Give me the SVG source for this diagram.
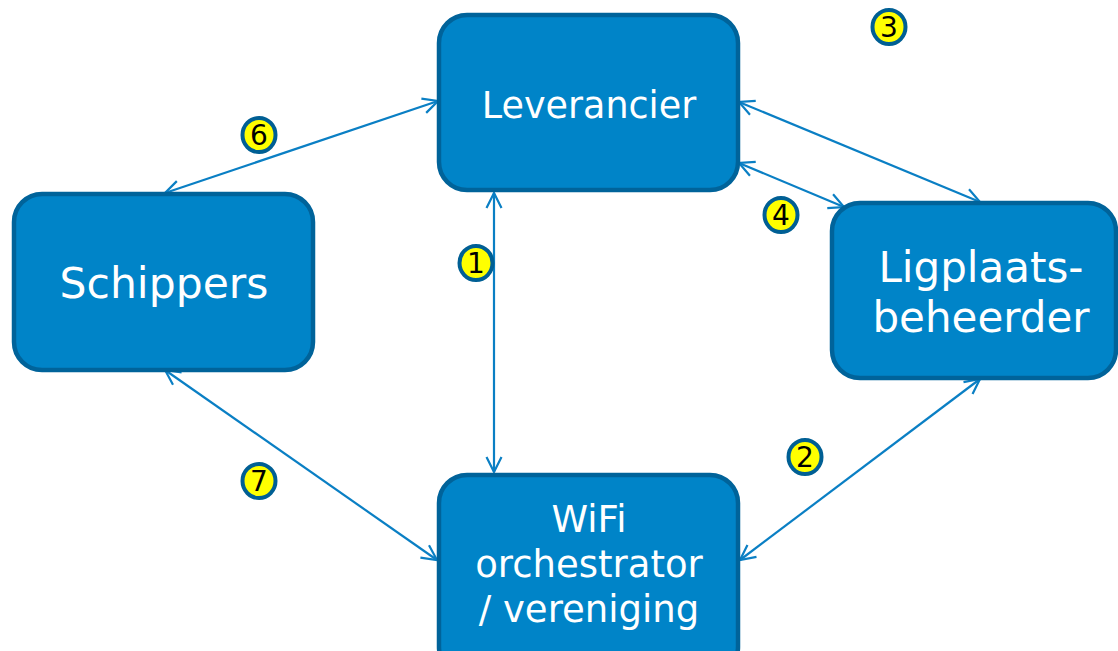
<svg xmlns="http://www.w3.org/2000/svg" width="1118" height="651" viewBox="0 0 1118 651">
<defs>
<marker id="ah" viewBox="0 0 18 18" refX="17" refY="9" markerWidth="18" markerHeight="18" markerUnits="userSpaceOnUse" orient="auto-start-reverse">
<path d="M2,1.5 L17,9 L2,16.5" fill="none" stroke="#0a7fc4" stroke-width="2.2"/>
</marker>
</defs>
<style>
.box{fill:#0084c8;stroke:#00639a;stroke-width:4.5}
.lbl{font-family:"DejaVu Sans",Verdana,sans-serif;fill:#ffffff;text-anchor:middle}
.con{stroke:#0a7fc4;stroke-width:2.2;fill:none;marker-start:url(#ah);marker-end:url(#ah)}
.bd{fill:#ffff00;stroke:#005f94;stroke-width:4}
.bt{font-family:"DejaVu Sans",Verdana,sans-serif;font-size:28px;fill:#000;text-anchor:middle}
</style>
<rect width="1118" height="651" fill="#ffffff"/>
<g id="connectors">
<line class="con" x1="494" y1="193" x2="494" y2="472"/>
<line class="con" x1="438" y1="101" x2="165" y2="193"/>
<line class="con" x1="165" y1="370" x2="437" y2="560"/>
<line class="con" x1="980" y1="379" x2="740" y2="560"/>
<line class="con" x1="739" y1="102" x2="980" y2="202"/>
<line class="con" x1="739" y1="163" x2="844" y2="207"/>
</g>
<g id="leverancier">
<rect class="box" x="439" y="15" width="299" height="175" rx="28"/>
<text class="lbl" x="589" y="118" font-size="36.5">Leverancier</text>
</g>
<g id="schippers">
<rect class="box" x="14" y="194" width="299" height="176" rx="28"/>
<text class="lbl" x="164" y="298" font-size="42.5">Schippers</text>
</g>
<g id="ligplaatsbeheerder">
<rect class="box" x="832" y="203" width="284" height="175" rx="28"/>
<text class="lbl" x="981" y="282" font-size="42">Ligplaats-</text>
<text class="lbl" x="981" y="332" font-size="42">beheerder</text>
</g>
<g id="wifi">
<rect class="box" x="439" y="475" width="299" height="200" rx="28"/>
<text class="lbl" x="589" y="532" font-size="37">WiFi</text>
<text class="lbl" x="589" y="577" font-size="37">orchestrator</text>
<text class="lbl" x="589" y="622" font-size="37">/ vereniging</text>
</g>
<g id="badge1"><ellipse class="bd" cx="476" cy="263" rx="16.5" ry="17"/><text class="bt" x="476" y="273">1</text></g>
<g id="badge2"><ellipse class="bd" cx="805" cy="457" rx="16.5" ry="17"/><text class="bt" x="805" y="467">2</text></g>
<g id="badge3"><ellipse class="bd" cx="889" cy="27" rx="16.5" ry="17"/><text class="bt" x="889" y="37">3</text></g>
<g id="badge4"><ellipse class="bd" cx="781" cy="215" rx="16.5" ry="17"/><text class="bt" x="781" y="225">4</text></g>
<g id="badge6"><ellipse class="bd" cx="259" cy="135" rx="16.5" ry="17"/><text class="bt" x="259" y="145">6</text></g>
<g id="badge7"><ellipse class="bd" cx="259" cy="481" rx="16.5" ry="17"/><text class="bt" x="259" y="491">7</text></g>
</svg>
